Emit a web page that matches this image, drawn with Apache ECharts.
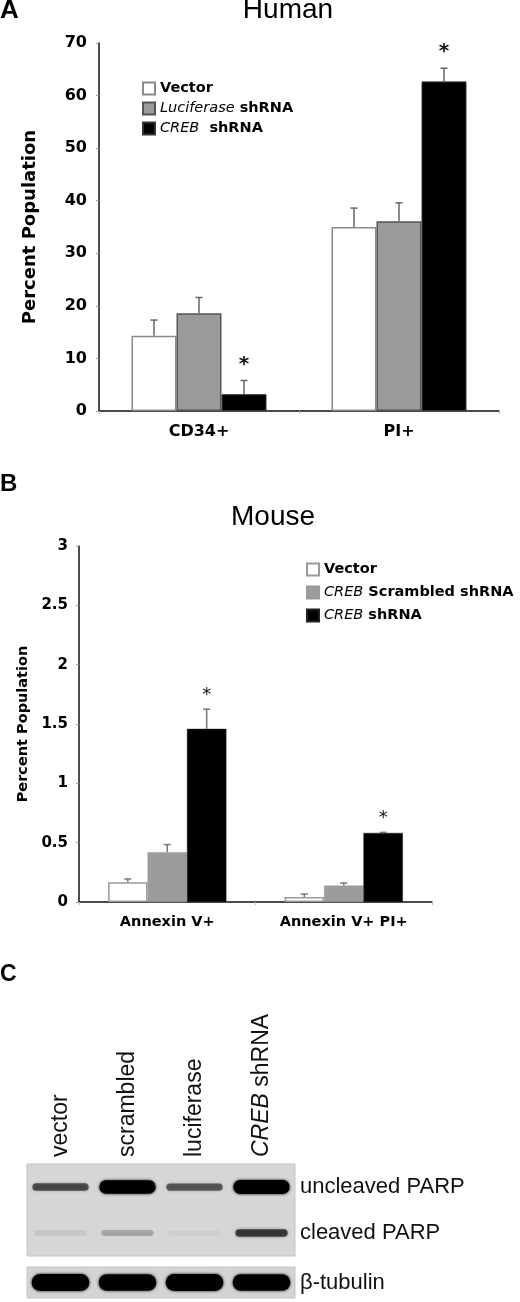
<!DOCTYPE html>
<html>
<head>
<meta charset="utf-8">
<script src="https://cdn.jsdelivr.net/npm/echarts@6/dist/echarts.min.js"></script>
<style>
html,body{margin:0;padding:0;background:#fff;}
#c{width:520px;height:1302px;}
</style>
</head>
<body>
<div id="c"></div>
<script>
// ---------- Panel A: Human ----------
const categoriesA = ['CD34+', 'PI+'];
const vectorA = [14.3, 35.0];
const vectorErrA = [3.0, 3.6];
const lucA = [18.6, 36.1];
const lucErrA = [3.0, 3.5];
const crebA = [3.2, 62.7];
const crebErrA = [2.6, 2.5];
const sigCrebA = [1, 1];
const ticksA = [0, 10, 20, 30, 40, 50, 60, 70];

// ---------- Panel B: Mouse ----------
const categoriesB = ['Annexin V+', 'Annexin V+ PI+'];
const vectorB = [0.166, 0.042];
const vectorErrB = [0.028, 0.025];
const scrB = [0.42, 0.138];
const scrErrB = [0.064, 0.022];
const crebB = [1.459, 0.582];
const crebErrB = [0.166, 0.005];
const sigCrebB = [1, 1];
const ticksB = [0, 0.5, 1, 1.5, 2, 2.5, 3];

// ---------- Panel C: western blot (relative band intensity) ----------
const lanes = ['vector', 'scrambled', 'luciferase', 'CREB shRNA'];
const blotRows = ['cleaved PARP', 'uncleaved PARP'];
const uncleavedPARP = [0.55, 0.97, 0.5, 1.0];
const cleavedPARP = [0.07, 0.2, 0.04, 0.62];
const tubulinRows = ['β-tubulin'];
const betaTubulin = [1.0, 0.94, 0.97, 0.94];

const SANS = 'DejaVu Sans';
const HELV = 'Liberation Sans';
const gapA = 0.325, gapB = 0.33;

function errData(vals, errs, sIdx, sig) {
  return vals.map((v, i) => [i, v, errs[i], sIdx, sig ? sig[i] : 0]);
}

function errRender(gap, n, color, starStyle) {
  return function (params, api) {
    const c = api.value(0), v = api.value(1), e = api.value(2), s = api.value(3), sig = api.value(4);
    const base = api.coord([c, v]);
    const top = api.coord([c, v + e]);
    const band = api.size([1, 0])[0];
    const bw = band * (1 - gap) / n;
    const x = base[0] + (s - (n - 1) / 2) * bw;
    const children = [
      { type: 'line', shape: { x1: x, y1: base[1], x2: x, y2: top[1] }, style: { stroke: color, lineWidth: 1.5 } },
      { type: 'line', shape: { x1: x - 3.5, y1: top[1], x2: x + 3.5, y2: top[1] }, style: { stroke: color, lineWidth: 1.5 } }
    ];
    if (sig) {
      children.push({ type: 'text', style: Object.assign({ text: '*', x: x, y: top[1] - starStyle.gap, textAlign: 'center', textVerticalAlign: 'bottom', fill: '#111' }, starStyle.font) });
    }
    return { type: 'group', children: children };
  };
}

function bandRender(thick, width) {
  return function (params, api) {
    const p = api.coord([api.value(0), api.value(1)]);
    const sz = api.size([1, 1]);
    const v = api.value(2);
    const h = thick(v);
    const w = sz[0] * width;
    const col = 'rgba(0,0,0,' + Math.min(1, v).toFixed(3) + ')';
    return {
      type: 'rect',
      shape: { x: p[0] - w / 2, y: p[1] - h / 2, width: w, height: h, r: h / 2 },
      style: { fill: col, shadowBlur: 3, shadowColor: col }
    };
  };
}

function legendRich(size) {
  return { i: { fontStyle: 'italic', fontWeight: 'normal', fontFamily: SANS, fontSize: size, color: '#000' } };
}

const chart = echarts.init(document.getElementById('c'), null, { renderer: 'canvas' });
chart.setOption({
  backgroundColor: '#fff',
  animation: false,
  graphic: [
    { type: 'text', left: 0, top: -2, style: { text: 'A', font: 'bold 26px "Liberation Sans"', fill: '#000' } },
    { type: 'text', x: 288, y: -4, style: { text: 'Human', font: '28px "Liberation Sans"', fill: '#000', textAlign: 'center' } },
    { type: 'text', left: 0, top: 472, style: { text: 'B', font: 'bold 24px "Liberation Sans"', fill: '#000' } },
    { type: 'text', x: 273, y: 503, style: { text: 'Mouse', font: '28px "Liberation Sans"', fill: '#000', textAlign: 'center' } },
    { type: 'text', left: 0, top: 963, style: { text: 'C', font: 'bold 23px "Liberation Sans"', fill: '#000' } }
  ],
  legend: [
    {
      data: ['Vector', 'Luciferase shRNA', 'CREB shRNA'],
      left: 142, top: 81, padding: 0, orient: 'vertical', icon: 'rect', itemWidth: 12, itemHeight: 12, itemGap: 5,
      textStyle: { fontFamily: SANS, fontWeight: 'bold', fontSize: 14.5, color: '#000', rich: legendRich(14.5) },
      formatter: function (n) {
        if (n === 'Luciferase shRNA') return '{i|Luciferase} shRNA';
        if (n === 'CREB shRNA') return '{i|CREB}  shRNA';
        return n;
      }
    },
    {
      data: ['Vector ', 'CREB Scrambled shRNA', 'CREB shRNA '],
      left: 306, top: 562, padding: 0, orient: 'vertical', icon: 'rect', itemWidth: 12, itemHeight: 12, itemGap: 8,
      textStyle: { fontFamily: SANS, fontWeight: 'bold', fontSize: 14.5, color: '#000', rich: legendRich(14.5) },
      formatter: function (n) {
        if (n === 'CREB Scrambled shRNA') return '{i|CREB} Scrambled shRNA';
        if (n === 'CREB shRNA ') return '{i|CREB} shRNA';
        return n.trim();
      }
    }
  ],
  grid: [
    { left: 99, width: 400, top: 43, height: 368 },
    { left: 79, width: 353, top: 546, height: 356 },
    { left: 27, width: 268, top: 1164, height: 92, show: true, backgroundColor: '#d6d6d6', borderColor: '#c4c4c4', borderWidth: 1 },
    { left: 27, width: 268, top: 1267, height: 31, show: true, backgroundColor: '#d4d4d4', borderColor: '#c4c4c4', borderWidth: 1 }
  ],
  xAxis: [
    {
      gridIndex: 0, type: 'category', data: categoriesA,
      axisLine: { lineStyle: { color: '#111', width: 1.5 } },
      axisTick: { show: true, length: 3, lineStyle: { color: '#bbb' } },
      axisLabel: { margin: 13, fontFamily: SANS, fontWeight: 'bold', fontSize: 16, color: '#000' }
    },
    {
      gridIndex: 1, type: 'category', data: categoriesB,
      axisLine: { lineStyle: { color: '#111', width: 1.5 } },
      axisTick: { show: true, length: 3, lineStyle: { color: '#bbb' } },
      axisLabel: { margin: 13, fontFamily: SANS, fontWeight: 'bold', fontSize: 14.5, color: '#000' }
    },
    {
      gridIndex: 2, type: 'category', data: lanes, position: 'top',
      axisLine: { show: false }, axisTick: { show: false },
      axisLabel: {
        rotate: -90, margin: 7, fontFamily: HELV, fontSize: 23, color: '#111',
        formatter: function (n) { return n === 'CREB shRNA' ? '{i|CREB} shRNA' : n; },
        rich: { i: { fontStyle: 'italic', fontFamily: HELV, fontSize: 23, color: '#111' } }
      }
    },
    {
      gridIndex: 3, type: 'category', data: lanes, show: false
    }
  ],
  yAxis: [
    {
      gridIndex: 0, type: 'value', min: 0, max: 70, interval: 10,
      name: 'Percent Population', nameLocation: 'middle', nameGap: 60, nameRotate: 90,
      nameTextStyle: { fontFamily: SANS, fontWeight: 'bold', fontSize: 18, color: '#000' },
      axisLine: { show: true, lineStyle: { color: '#111', width: 1.5 } },
      axisTick: { show: true, length: 3, lineStyle: { color: '#999' } },
      splitLine: { show: false },
      axisLabel: { margin: 12, fontFamily: SANS, fontWeight: 'bold', fontSize: 16, color: '#000',
        formatter: function (v) { return ticksA.indexOf(v) >= 0 ? String(v) : ''; } }
    },
    {
      gridIndex: 1, type: 'value', min: 0, max: 3, interval: 0.5,
      name: 'Percent Population', nameLocation: 'middle', nameGap: 46, nameRotate: 90,
      nameTextStyle: { fontFamily: SANS, fontWeight: 'bold', fontSize: 14.5, color: '#000' },
      axisLine: { show: true, lineStyle: { color: '#111', width: 1.5 } },
      axisTick: { show: true, length: 3, lineStyle: { color: '#999' } },
      splitLine: { show: false },
      axisLabel: { margin: 11, fontFamily: SANS, fontWeight: 'bold', fontSize: 15, color: '#000',
        formatter: function (v) { return ticksB.indexOf(v) >= 0 ? String(v) : ''; } }
    },
    {
      gridIndex: 2, type: 'category', data: blotRows, position: 'right',
      axisLine: { show: false }, axisTick: { show: false }, splitLine: { show: false },
      axisLabel: { margin: 5, fontFamily: HELV, fontSize: 22, color: '#111' }
    },
    {
      gridIndex: 3, type: 'category', data: tubulinRows, position: 'right',
      axisLine: { show: false }, axisTick: { show: false }, splitLine: { show: false },
      axisLabel: { margin: 5, fontFamily: HELV, fontSize: 22, color: '#111' }
    }
  ],
  series: [
    // Panel A bars
    { name: 'Vector', type: 'bar', xAxisIndex: 0, yAxisIndex: 0, data: vectorA, barGap: '0%', barCategoryGap: (gapA * 100) + '%',
      itemStyle: { color: '#ffffff', borderColor: '#8a8a8a', borderWidth: 1.5 } },
    { name: 'Luciferase shRNA', type: 'bar', xAxisIndex: 0, yAxisIndex: 0, data: lucA, barGap: '0%', barCategoryGap: (gapA * 100) + '%',
      itemStyle: { color: '#9a9a9a', borderColor: '#555', borderWidth: 1.5 } },
    { name: 'CREB shRNA', type: 'bar', xAxisIndex: 0, yAxisIndex: 0, data: crebA, barGap: '0%', barCategoryGap: (gapA * 100) + '%',
      itemStyle: { color: '#000000', borderColor: '#333', borderWidth: 1 } },
    { type: 'custom', xAxisIndex: 0, yAxisIndex: 0, z: 5,
      renderItem: errRender(gapA, 3, '#666', { gap: 6, font: { font: 'bold 20px "DejaVu Sans"' } }),
      data: [].concat(errData(vectorA, vectorErrA, 0), errData(lucA, lucErrA, 1), errData(crebA, crebErrA, 2, sigCrebA)) },
    // Panel B bars
    { name: 'Vector ', type: 'bar', xAxisIndex: 1, yAxisIndex: 1, data: vectorB, barGap: '0%', barCategoryGap: (gapB * 100) + '%',
      itemStyle: { color: '#ffffff', borderColor: '#9a9a9a', borderWidth: 1.5 } },
    { name: 'CREB Scrambled shRNA', type: 'bar', xAxisIndex: 1, yAxisIndex: 1, data: scrB, barGap: '0%', barCategoryGap: (gapB * 100) + '%',
      itemStyle: { color: '#9c9c9c', borderColor: '#999', borderWidth: 0.5 } },
    { name: 'CREB shRNA ', type: 'bar', xAxisIndex: 1, yAxisIndex: 1, data: crebB, barGap: '0%', barCategoryGap: (gapB * 100) + '%',
      itemStyle: { color: '#000000', borderColor: '#222', borderWidth: 0.5 } },
    { type: 'custom', xAxisIndex: 1, yAxisIndex: 1, z: 5,
      renderItem: errRender(gapB, 3, '#777', { gap: 5, font: { font: '18px "DejaVu Sans"' } }),
      data: [].concat(errData(vectorB, vectorErrB, 0), errData(scrB, scrErrB, 1), errData(crebB, crebErrB, 2, sigCrebB)) },
    // Panel C blot bands
    { type: 'custom', xAxisIndex: 2, yAxisIndex: 2,
      renderItem: bandRender(function (v) { return 5 + 9 * v * v; }, 0.84),
      data: uncleavedPARP.map(function (v, i) { return [i, 1, v]; }) },
    { type: 'custom', xAxisIndex: 2, yAxisIndex: 2,
      renderItem: bandRender(function (v) { return 5 + 4 * v; }, 0.78),
      data: cleavedPARP.map(function (v, i) { return [i, 0, v]; }) },
    { type: 'custom', xAxisIndex: 3, yAxisIndex: 3,
      renderItem: bandRender(function (v) { return 11 + 6 * v; }, 0.86),
      data: betaTubulin.map(function (v, i) { return [i, 0, v]; }) }
  ]
});
</script>
</body>
</html>
